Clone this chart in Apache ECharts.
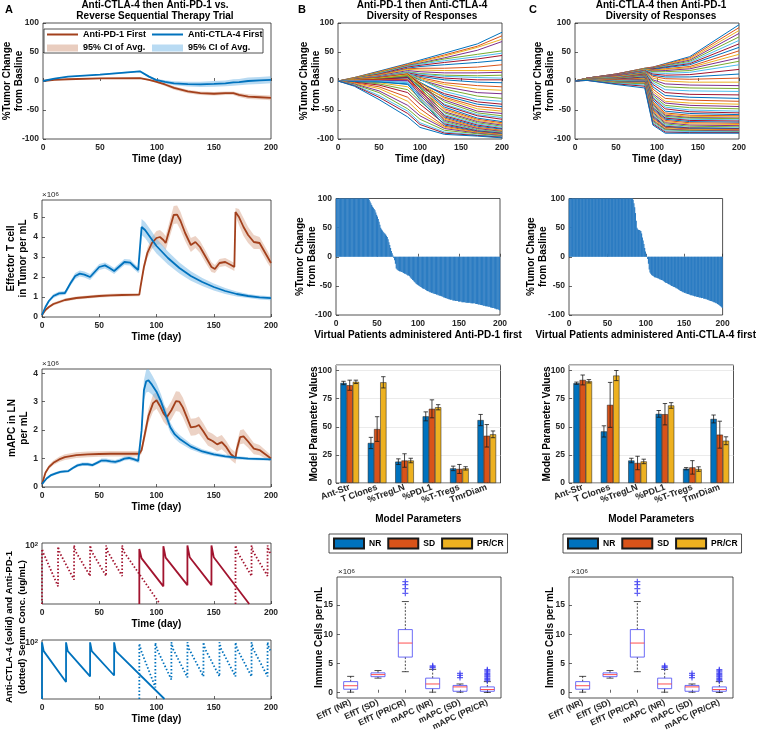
<!DOCTYPE html>
<html><head><meta charset="utf-8">
<script src="https://cdn.jsdelivr.net/npm/echarts@6/dist/echarts.min.js"></script>
<style>html,body{margin:0;padding:0;background:#fff}#c{width:758px;height:734px}</style>
</head><body><div id="c"></div><script>
// ---------------- DATA ----------------
// Panel A1: % tumor change, mean and 95% CI half-width
const a1Time   = [0,10,22,50,85,93,99,107,115,127,138,150,160,167,172,180,190,200];
const a1PD1    = [0,2,3,4.6,5,2,-1,-6,-12,-18,-21,-22,-21,-21,-24,-27,-28,-29];
const a1PD1CI  = [0,0.6,0.8,1,1.2,1.5,2,2.5,3,3,3,3,3,3,3.5,4,4,4];
const a1CTLA   = [0,4,7.5,11,16.7,7.5,2,-1.5,-4,-5.5,-5.7,-5,-4,-2.5,-2,0,1,2];
const a1CTLACI = [0,0.6,0.8,1,1.2,1.5,2,3,3.5,4,4.5,5,5,5.5,5.5,6,6,6];
// Panel A2: effector T cells (x10^6 per mL)
const a2PD1Time = [0,3,6,10,15,20,30,40,50,60,70,85,86,89,92,96,100,103,106,108,111,115,118,121,125,130,134,138,143,148,151,155,160,165,168,169,172,176,180,185,190,193,197,200];
const a2PD1     = [0.1,0.35,0.5,0.65,0.75,0.85,0.95,1.0,1.05,1.08,1.1,1.12,1.5,2.5,3.2,3.7,3.95,4.0,3.85,3.7,4.3,5.1,5.12,4.8,4.2,3.6,3.75,3.5,3.0,2.5,2.4,2.7,2.75,2.6,2.5,5.25,5.0,4.5,4.1,3.75,3.7,3.4,3.0,2.7];
const a2PD1CI   = [0.02,0.05,0.06,0.07,0.08,0.08,0.08,0.08,0.08,0.08,0.08,0.08,0.1,0.2,0.25,0.3,0.35,0.35,0.35,0.35,0.4,0.45,0.45,0.45,0.4,0.35,0.3,0.3,0.3,0.25,0.2,0.2,0.2,0.2,0.2,0.2,0.4,0.45,0.4,0.35,0.3,0.3,0.3,0.25];
const a2CTLATime = [0,3,6,10,15,20,21,25,29,33,37,42,46,50,55,59,63,67,72,77,81,84,85,87,90,95,100,110,120,130,140,150,160,170,180,190,200];
const a2CTLA     = [0.1,0.5,0.8,1.05,1.18,1.2,1.25,1.7,2.05,2.17,2.12,2.0,2.25,2.5,2.58,2.45,2.3,2.5,2.75,2.72,2.5,2.35,2.4,4.5,4.35,3.95,3.55,2.95,2.45,2.05,1.75,1.5,1.3,1.15,1.05,0.98,0.94];
const a2CTLACI   = [0.02,0.05,0.08,0.1,0.1,0.1,0.1,0.12,0.15,0.15,0.15,0.15,0.15,0.15,0.15,0.15,0.15,0.15,0.15,0.15,0.15,0.15,0.15,0.4,0.4,0.4,0.38,0.33,0.28,0.24,0.2,0.17,0.15,0.12,0.1,0.1,0.1];
// Panel A3: mAPC in LN (x10^6 per mL)
const a3PD1Time = [0,3,6,10,15,20,30,40,50,60,70,85,87,90,93,97,100,103,106,109,113,117,120,123,126,130,134,137,141,145,149,153,157,161,165,169,170,173,176,180,185,190,195,200];
const a3PD1     = [0.1,0.5,0.7,0.85,0.97,1.05,1.12,1.15,1.16,1.17,1.17,1.17,1.3,1.9,2.5,2.95,3.05,2.85,2.6,2.45,2.7,3.02,3.0,2.8,2.5,2.1,2.12,2.18,1.95,1.7,1.62,1.5,1.58,1.4,1.15,1.02,1.3,1.75,1.78,1.6,1.35,1.3,1.15,1.0];
const a3PD1CI   = [0.02,0.05,0.07,0.08,0.09,0.1,0.1,0.1,0.1,0.1,0.1,0.1,0.12,0.2,0.25,0.3,0.3,0.3,0.3,0.3,0.32,0.35,0.35,0.35,0.33,0.3,0.3,0.3,0.28,0.25,0.25,0.25,0.25,0.22,0.2,0.2,0.22,0.25,0.25,0.22,0.2,0.18,0.15,0.12];
const a3CTLATime = [0,4,8,12,16,20,23,27,31,35,40,44,48,52,56,60,64,68,72,76,80,84,85,87,89,91,93,96,100,104,108,112,116,120,130,140,150,160,170,180,200];
const a3CTLA     = [0.1,0.3,0.42,0.48,0.53,0.55,0.56,0.67,0.76,0.8,0.8,0.77,0.85,0.93,0.93,0.9,0.88,0.93,1.0,1.02,0.98,0.92,0.92,2.0,3.4,3.72,3.75,3.6,3.35,3.0,2.55,2.1,1.85,1.7,1.42,1.25,1.15,1.08,1.03,1.0,0.97];
const a3CTLACI   = [0.02,0.04,0.05,0.05,0.05,0.05,0.05,0.05,0.06,0.06,0.06,0.06,0.06,0.07,0.07,0.07,0.07,0.07,0.07,0.07,0.07,0.07,0.07,0.2,0.35,0.4,0.4,0.35,0.3,0.25,0.2,0.18,0.15,0.14,0.1,0.08,0.07,0.06,0.06,0.05,0.05];
// Panel A4: serum concentrations (ug/mL); '-' breaks a line
const a4TopDotT = [0,0,1.5,14,14,15.5,28,28,29.5,42,42,43.5,56,56,57.5,70,70,71.5,103,'-',169,169,170.5,183,183,184.5,197,197,198.5,200];
const a4TopDotC = [10,87,72,20,95,75,26,100,78,30,100,78,30,100,78,30,100,78,10,'-',10,100,78,30,100,78,30,100,78,72];
const a4TopSolT = [85,85,87,106,106,108,127,127,129,148,148,150,181];
const a4TopSolC = [10,87,60,20,97,62,21,100,63,21,100,63,10];
const a4BotSolT = [0,0,1.5,21,21,22.5,42,42,43.5,63,63,64.5,107];
const a4BotSolC = [10,100,70,20,100,70,25,100,70,26,100,70,10];
const a4BotDotT = [85,85,86.5,99,99,100.5,113,113,114.5,127,127,128.5,141,141,142.5,155,155,156.5,169,169,170.5,183,183,184.5,197,197,198.5,200];
const a4BotDotC = [10,95,72,16,98,75,22,100,76,24,100,76,25,100,76,25,100,76,25,100,76,25,100,76,25,100,76,70];
// Panel B1 / C1: individual virtual patients (% tumor change)
const tB = [0,20,50,85,100,130,170,200];
const b1Lines = [
[0,6,17,30,36,48,64,84],[0,6,16,29,34,45,60,78],[0,5,15,28,33,43,58,72],[0,5,14,27,31,40,53,68],
[0,5,14,26,30,38,46,52],[0,4,13,25,29,35,42,48],[0,4,12,24,27,32,38,44],[0,4,11,22,25,28,32,36],
[0,4,11,21,22,22,24,28],[0,4,10,20,19,18,18,18],[0,3,9,18,16,14,14,15],[0,3,8,16,13,10,9,10],
[0,3,8,15,12,8,6,5],[0,3,7,14,10,5,2,2],[0,2,6,12,8,2,-2,-3],[0,2,6,12,6,-3,-8,-10],
[0,2,5,10,4,-6,-14,-16],[0,2,5,10,2,-10,-20,-22],[0,2,5,12,2,-14,-26,-30],[0,2,6,14,3,-18,-32,-35],
[0,1,4,8,-4,-22,-36,-40],[0,2,5,11,-2,-25,-40,-44],[0,1,3,6,-8,-28,-44,-48],[0,2,6,13,-3,-30,-48,-52],
[0,1,3,5,-10,-33,-52,-56],[0,2,5,10,-6,-36,-55,-60],[0,1,2,4,-12,-40,-58,-63],[0,2,6,12,-5,-42,-60,-66],
[0,1,3,7,-10,-45,-64,-70],[0,1,2,2,-15,-48,-66,-72],[0,2,5,11,-8,-50,-68,-74],[0,0,1,0,-18,-53,-70,-76],
[0,1,4,9,-12,-55,-72,-78],[0,0,0,-3,-22,-58,-74,-80],[0,1,3,6,-16,-60,-76,-82],[0,0,-1,-6,-25,-62,-78,-83],
[0,1,2,3,-20,-64,-80,-85],[0,-1,-3,-10,-30,-66,-81,-86],[0,0,1,1,-24,-68,-82,-87],[0,-1,-5,-15,-35,-70,-84,-88],
[0,0,0,-2,-28,-72,-85,-89],[0,-2,-7,-20,-40,-74,-86,-90],[0,-1,-2,-5,-32,-76,-87,-91],[0,-3,-10,-28,-48,-78,-88,-92],
[0,-4,-13,-35,-55,-80,-89,-93],[0,-5,-17,-42,-60,-82,-90,-94],[0,-6,-20,-48,-66,-85,-91,-95],[0,-7,-25,-52,-72,-88,-93,-96],
[0,-8,-28,-56,-75,-90,-94,-97],[0,-9,-32,-62,-80,-92,-95,-98]
];
const tC = [0,15,50,85,95,110,140,200];
const c1Lines = [
[0,5,12,22,24,30,42,97],[0,5,12,22,24,29,40,92],[0,5,12,21,23,28,38,87],[0,5,12,21,23,27,36,82],
[0,5,11,21,22,26,34,76],[0,5,11,20,21,25,32,70],[0,5,11,20,21,24,30,64],[0,5,11,20,20,23,28,58],
[0,5,11,20,19,21,25,52],[0,5,10,20,18,20,23,46],[0,5,10,19,17,18,21,40],[0,4,10,19,16,16,18,34],
[0,4,10,19,14,13,15,28],[0,4,10,18,12,10,11,20],[0,4,9,18,10,7,7,12],[0,4,9,18,8,4,3,5],
[0,4,9,17,5,0,-2,-2],[0,4,9,17,2,-5,-7,-8],[0,4,8,16,0,-10,-12,-13],[0,4,8,16,-3,-15,-17,-18],
[0,4,8,15,-6,-20,-23,-24],[0,4,7,15,-10,-25,-28,-30],[0,4,7,14,-14,-30,-33,-35],[0,4,7,14,-18,-35,-38,-40],
[0,4,6,13,-22,-38,-42,-44],[0,4,6,13,-25,-42,-46,-48],[0,3,6,12,-28,-45,-50,-52],[0,3,5,12,-30,-48,-53,-55],
[0,3,5,11,-33,-52,-56,-58],[0,3,5,11,-36,-55,-59,-60],[0,3,4,10,-38,-57,-61,-62],[0,3,4,10,-40,-59,-63,-64],
[0,3,4,9,-42,-61,-64,-65],[0,3,3,8,-44,-63,-66,-67],[0,3,3,7,-46,-64,-68,-69],[0,3,2,6,-48,-66,-70,-71],
[0,3,2,5,-50,-68,-72,-73],[0,3,1,4,-52,-70,-74,-75],[0,2,1,3,-54,-72,-76,-77],[0,2,0,2,-56,-74,-78,-79],
[0,2,0,1,-58,-76,-80,-81],[0,2,-1,0,-60,-78,-81,-82],[0,2,-1,-1,-62,-79,-82,-83],[0,2,-2,-2,-64,-80,-83,-84],
[0,2,-2,-3,-66,-82,-84,-85],[0,2,-3,-4,-68,-83,-85,-86],[0,2,-3,-5,-70,-84,-86,-87],[0,1,-4,-7,-72,-86,-87,-88],
[0,1,-5,-9,-74,-88,-89,-89],[0,1,-6,-12,-76,-90,-90,-90]
];
// Panel B2 / C2: waterfall of final % change, 200 virtual patients (sorted)
const b2Final = [
100,100,100,100,100,100,100,100,100,100,100,100,100,100,100,100,100,100,100,100,
100,100,100,100,100,100,100,100,100,100,100,100,100,100,100,100,100,100,100,100,
98,95,92,89,86,84,82,80,76,72, 69,65,60,55,50,47,45,43,41,40,
38,36,34,30,25,20,15,10,6,2, -2,-6,-12,-20,-22,-23,-24,-25,-25,-26,
-26,-27,-28,-29,-29,-30,-31,-32,-32,-33, -35,-37,-38,-40,-41,-43,-44,-46,-47,-48,
-49,-50,-51,-52,-53,-54,-55,-55,-56,-57, -58,-59,-59,-60,-61,-61,-62,-62,-63,-63,
-64,-64,-65,-65,-66,-66,-67,-67,-68,-68, -69,-70,-70,-71,-71,-72,-72,-73,-73,-74,
-74,-74,-75,-75,-75,-76,-76,-76,-76,-77, -77,-77,-77,-78,-78,-78,-78,-78,-79,-79,
-79,-79,-79,-79,-80,-80,-80,-80,-80,-80, -81,-81,-81,-82,-82,-82,-83,-83,-83,-84,
-84,-84,-85,-85,-85,-86,-86,-86,-87,-87, -88,-88,-88,-89,-89,-90,-90,-90,-91,-92];
const c2Final = [
100,100,100,100,100,100,100,100,100,100,100,100,100,100,100,100,100,100,100,100,
100,100,100,100,100,100,100,100,100,100,100,100,100,100,100,100,100,100,100,100,
100,100,100,100,100,100,100,100,100,100,100,100,100,100,100,100,100,100,100,100,
100,100,100,100,100,100,100,100,100,100,100,100,100,100,100,100,100,100,100,100,
100,100,100, 98,92,85,75,62,50,47,
46,46,45,44,40,33,28,22,15,9, 4,0,-4,-12,-22,-27,-29,-31,-32,-33,
-34,-35,-35,-36,-36,-37,-37,-38,-39,-39, -40,-40,-41,-42,-43,-44,-45,-45,-46,-47,
-47,-48,-49,-50,-50,-51,-52,-52,-53,-54, -54,-55,-56,-57,-58,-59,-59,-60,-61,-61,
-62,-62,-63,-63,-64,-64,-65,-65,-66,-66, -66,-67,-67,-68,-68,-68,-69,-69,-69,-70,
-70,-70,-71,-71,-71,-72,-72,-72,-73,-73, -74,-74,-75,-75,-76,-76,-77,-77,-78,-78,
-79,-80,-80,-81,-82,-83,-84,-85,-86,-88];
// Panel B3 / C3: model parameter values by response group (mean, error)
const paramCats = ['Ant-Str','T Clones','%TregLN','%PDL1','%T-Tregs','TmrDiam'];
const b3NR = [89,35.6,19,59.3,13,56];     const b3NRerr = [1.5,5,2.5,4,2,5];
const b3SD = [87,48,20,66,12.5,42];       const b3SDerr = [4.5,11,6,8,4,10];
const b3PR = [90,89.6,20,67.4,13,43.3];   const b3PRerr = [1.5,5,2,2.3,1.5,3];
const c3NR = [88.8,45.9,20,61.5,12.7,57];  const c3NRerr = [1,5,2,3,1,3.5];
const c3SD = [91.7,69.5,17.8,61.2,13.9,43]; const c3SDerr = [4.4,20,6,9.5,6,12];
const c3PR = [90.5,95.6,19.2,69,12.4,37.6]; const c3PRerr = [1.5,4.5,2,2.5,2,3.5];
// Panel B4 / C4: immune cells per mL (x10^6): [min, Q1, median, Q3, max]
const boxCats = ['EffT (NR)','EffT (SD)','EffT (PR/CR)','mAPC (NR)','mAPC (SD)','mAPC (PR/CR)'];
const boxStats = [[0.1,0.6,1.2,1.9,2.8],[2.5,2.75,3.1,3.4,3.8],[3.6,6.1,8.5,10.8,15.6],[0.1,0.7,1.5,2.5,4.0],[0.1,0.25,1.0,1.25,1.5],[0.05,0.25,0.55,1.0,1.9]];
const boxOutliers = [[2,17.0],[2,17.8],[2,18.5],[2,19.0],[3,4.3],[3,4.45],[3,4.6],[4,2.6],[4,2.97],[4,3.3],
  [5,2.05],[5,2.25],[5,2.45],[5,2.7],[5,2.9],[5,3.1],[5,3.3],[5,3.55],[5,3.75],[5,3.95]];

// ---------------- CHART ----------------
const F = '"Liberation Sans", Arial, Helvetica, sans-serif';
const MC = ['#0072BD','#D95319','#EDB120','#7E2F8E','#77AC30','#4DBEEE','#A2142F'];
const BROWN = '#A3401C', BLUE = '#0072BD', BROWN_CI = '#D9A58C', BLUE_CI = '#72B6E6', RED = '#A2142F';
const grid=[], xAxis=[], yAxis=[], series=[], graphic=[];
const tick = {show:true, inside:true, length:3, lineStyle:{color:'#262626', width:0.7}};
function lab(e){ return Object.assign({color:'#262626', fontFamily:F, fontWeight:'bold', fontSize:8.5, margin:4}, e||{}); }
function nts(e){ return Object.assign({color:'#000', fontFamily:F, fontWeight:'bold', fontSize:10, lineHeight:12}, e||{}); }
function addGrid(r, xo, yo){
  const i = grid.length;
  grid.push({left:r[0], top:r[1], width:r[2], height:r[3], show:true, borderColor:'#262626', borderWidth:0.8, backgroundColor:'#fff'});
  xAxis.push(Object.assign({gridIndex:i, axisLine:{show:false}, axisTick:tick, splitLine:{show:false}, nameLocation:'middle', nameTextStyle:nts()}, xo));
  yAxis.push(Object.assign({gridIndex:i, axisLine:{show:false}, axisTick:tick, splitLine:{show:false}, nameLocation:'middle', nameRotate:90,
    nameMoveOverlap:false, nameTextStyle:nts()}, yo));
  return i;
}
function timeX(gap){ return {type:'value', min:0, max:200, interval:50, axisLabel:lab(), name:'Time (day)', nameGap:gap}; }
function pctY(gap){ return {type:'value', min:-100, max:100, interval:50, axisLabel:lab(), name:'%Tumor Change\nfrom Basline', nameGap:gap}; }
function line(gi, t, v, color, w, type){
  series.push({type:'line', xAxisIndex:gi, yAxisIndex:gi, data:t.map((x,i)=>[x, v[i]]), symbol:'none', silent:true,
    lineStyle:{color, width:w, type:type||'solid'}, z:3});
}
// confidence band polygon drawn through the axis scales
function band(gi, t, m, ci, color){
  series.push({type:'custom', xAxisIndex:gi, yAxisIndex:gi, silent:true, z:2, clip:true,
    data:[[t[0], m[0]]], encode:{x:0, y:1},
    renderItem:(p, api)=>{
      const up = t.map((x,i)=>api.coord([x, m[i]+ci[i]]));
      const lo = t.map((x,i)=>api.coord([x, m[i]-ci[i]])).reverse();
      return {type:'polygon', shape:{points:up.concat(lo)}, style:{fill:color, opacity:0.5}};
    }});
}
const sciY = (max, name, gap) => ({type:'value', min:0, max, axisLabel:lab({showMaxLabel:false}), name, nameGap:gap});
const logY = {type:'log', logBase:10, min:10, max:110, axisTick:{show:false},
  axisLabel:lab({formatter:v => Math.abs(v-100)<1 ? '{b|10}{s|2}' : '',
    rich:{b:{fontSize:8.5,fontWeight:'bold',fontFamily:F,color:'#262626'}, s:{fontSize:6,fontWeight:'bold',fontFamily:F,color:'#262626',verticalAlign:'top'}}})};

// Panel A
const gA1 = addGrid([42,23,229,116], timeX(13), pctY(18));
band(gA1, a1Time, a1PD1, a1PD1CI, BROWN_CI); band(gA1, a1Time, a1CTLA, a1CTLACI, BLUE_CI);
line(gA1, a1Time, a1PD1, BROWN, 1.8); line(gA1, a1Time, a1CTLA, BLUE, 1.8);
const gA2 = addGrid([42,200,229,117], timeX(14), sciY(5.85, 'Effector T cell\nin Tumor per mL', 13));
band(gA2, a2PD1Time, a2PD1, a2PD1CI, BROWN_CI); band(gA2, a2CTLATime, a2CTLA, a2CTLACI, BLUE_CI);
line(gA2, a2PD1Time, a2PD1, BROWN, 1.8); line(gA2, a2CTLATime, a2CTLA, BLUE, 1.8);
const gA3 = addGrid([42,369,229,118], timeX(14), sciY(4.15, 'mAPC in LN\nper mL', 12));
band(gA3, a3PD1Time, a3PD1, a3PD1CI, BROWN_CI); band(gA3, a3CTLATime, a3CTLA, a3CTLACI, BLUE_CI);
line(gA3, a3PD1Time, a3PD1, BROWN, 1.8); line(gA3, a3CTLATime, a3CTLA, BLUE, 1.8);
const gA4a = addGrid([42,543,229,61], timeX(13), Object.assign({}, logY));
line(gA4a, a4TopDotT, a4TopDotC, RED, 1.8, [1.5,2]); line(gA4a, a4TopSolT, a4TopSolC, RED, 1.8);
const gA4b = addGrid([42,640,229,59], timeX(13), Object.assign({}, logY));
line(gA4b, a4BotSolT, a4BotSolC, BLUE, 1.8); line(gA4b, a4BotDotT, a4BotDotC, BLUE, 1.8, [1.5,2]);

// Panels B and C
function panel(x1, x2, lines, tt, finals, wfName, nr, nrE, sd, sdE, pr, prE, xb, g1, g2, g3, g4){
  const gi1 = addGrid([x1,23,164,116], timeX(13), pctY(g1));
  lines.forEach((ln,k)=>line(gi1, tt, ln, MC[k%7], 1));
  const gi2 = addGrid([x2,198.5,164,116.5],
    {type:'value', min:0, max:200, interval:50, axisLabel:lab(), name:wfName, nameGap:13},
    pctY(g2));
  series.push({type:'bar', xAxisIndex:gi2, yAxisIndex:gi2, barWidth:1.2, silent:true,
    itemStyle:{color:'#2C7CC2'}, data:finals.map((v,i)=>[i+0.5, v])});
  const gi3 = addGrid([x2,365,164.5,118],
    {type:'category', data:paramCats, axisTick:Object.assign({alignWithLabel:true}, tick),
     axisLabel:lab({rotate:20, interval:0, fontSize:9, margin:4}), name:'Model Parameters', nameGap:30},
    {type:'value', min:0, max:105, interval:25, axisLabel:lab({showMaxLabel:false}),
     splitLine:{show:true, lineStyle:{color:'#e3e3e3', width:0.7}}, name:'Model Parameter Values', nameGap:g3});
  const groups = [['NR',nr,nrE,MC[0]],['SD',sd,sdE,MC[1]],['PR/CR',pr,prE,MC[2]]];
  const bw = 6.2;
  groups.forEach(([nm,v,e,col],k)=>{
    series.push({type:'bar', name:nm, xAxisIndex:gi3, yAxisIndex:gi3, data:v, barWidth:bw, barGap:'0%', silent:true,
      itemStyle:{color:col, borderColor:'#1a1a1a', borderWidth:0.5}});
  });
  groups.forEach(([nm,v,e,col],k)=>{
    const off = (k-1)*bw;
    series.push({type:'custom', xAxisIndex:gi3, yAxisIndex:gi3, silent:true, z:5, encode:{x:0,y:1},
      data:v.map((val,i)=>[i, val, e[i]]),
      renderItem:(p, api)=>{
        const c = api.value(0), m = api.value(1), er = api.value(2);
        const t = api.coord([c, m+er]), b = api.coord([c, m-er]); const x = t[0]+off;
        const s = {stroke:'#1a1a1a', lineWidth:0.8};
        return {type:'group', children:[
          {type:'line', shape:{x1:x,y1:t[1],x2:x,y2:b[1]}, style:s},
          {type:'line', shape:{x1:x-2.2,y1:t[1],x2:x+2.2,y2:t[1]}, style:s},
          {type:'line', shape:{x1:x-2.2,y1:b[1],x2:x+2.2,y2:b[1]}, style:s}]};
      }});
  });
  const gi4 = addGrid([xb,577,164,121],
    {type:'category', data:boxCats, axisTick:Object.assign({alignWithLabel:true}, tick),
     axisLabel:lab({rotate:25, interval:0, fontSize:8.5, margin:4})},
    {type:'value', min:-0.9, max:19.8, axisLabel:lab({showMinLabel:false, showMaxLabel:false}), name:'Immune Cells per mL', nameGap:g4});
  series.push({type:'custom', xAxisIndex:gi4, yAxisIndex:gi4, silent:true, encode:{x:0,y:[1,2,3,4,5]},
    data:boxStats.map((s,i)=>[i].concat(s)),
    renderItem:(p, api)=>{
      const i = api.value(0);
      const pm = api.coord([i, api.value(1)]), q1 = api.coord([i, api.value(2)]), md = api.coord([i, api.value(3)]),
            q3 = api.coord([i, api.value(4)]), px = api.coord([i, api.value(5)]);
      const x = pm[0], hw = 7, cw = 3.5;
      const wd = {stroke:'#000', lineWidth:0.7, lineDash:[2,1.5]}, cs = {stroke:'#000', lineWidth:0.7};
      return {type:'group', children:[
        {type:'line', shape:{x1:x,y1:q3[1],x2:x,y2:px[1]}, style:wd},
        {type:'line', shape:{x1:x,y1:q1[1],x2:x,y2:pm[1]}, style:wd},
        {type:'line', shape:{x1:x-cw,y1:px[1],x2:x+cw,y2:px[1]}, style:cs},
        {type:'line', shape:{x1:x-cw,y1:pm[1],x2:x+cw,y2:pm[1]}, style:cs},
        {type:'rect', shape:{x:x-hw,y:q3[1],width:2*hw,height:q1[1]-q3[1]}, style:{fill:'transparent', stroke:'#5b5bf5', lineWidth:0.9}},
        {type:'line', shape:{x1:x-hw,y1:md[1],x2:x+hw,y2:md[1]}, style:{stroke:'#ff3b3b', lineWidth:0.9}}]};
    }});
  series.push({type:'scatter', xAxisIndex:gi4, yAxisIndex:gi4, silent:true, data:boxOutliers,
    symbol:'path://M4,0H6V4H10V6H6V10H4V6H0V4H4Z', symbolSize:6, itemStyle:{color:'#3a3af0'}});
}
panel(338, 336, b1Lines, tB, b2Final, 'Virtual Patients administered Anti-PD-1 first', b3NR,b3NRerr,b3SD,b3SDerr,b3PR,b3PRerr, 337, 16, 18, 16, 11.5);
panel(575, 569, c1Lines, tC, c2Final, 'Virtual Patients administered Anti-CTLA-4 first', c3NR,c3NRerr,c3SD,c3SDerr,c3PR,c3PRerr, 569, 19, 20, 16, 13);

// legends for B3 / C3
const legBase = {orient:'horizontal', data:['NR','SD','PR/CR'], itemWidth:30, itemHeight:10, itemGap:6, padding:[3.5,4],
  borderColor:'#262626', borderWidth:0.8, backgroundColor:'#fff', icon:'rect', selectedMode:false,
  textStyle:{fontFamily:F, fontWeight:'bold', fontSize:8.5, color:'#000'}};
const legend = [Object.assign({left:329, top:534}, legBase), Object.assign({left:563, top:534}, legBase)];

// text / annotations
const T = (x,y,text,size,extra) => Object.assign({type:'text', x, y, z:100, silent:true,
  style:Object.assign({text, fill:'#000', font:'bold '+size+'px '+F, textAlign:'center', textVerticalAlign:'middle'}, extra||{})});
graphic.push(T(9,10,'A',11), T(302,10,'B',11), T(533,10,'C',11));
graphic.push(T(155,10.5,'Anti-CTLA-4 then Anti-PD-1 vs.\nReverse Sequential Therapy Trial',10,{lineHeight:11.5}));
graphic.push(T(422,10.5,'Anti-PD-1 then Anti-CTLA-4\nDiversity of Responses',10,{lineHeight:11.5}));
graphic.push(T(661,10.5,'Anti-CTLA-4 then Anti-PD-1\nDiversity of Responses',10,{lineHeight:11.5}));
const sci = (x,y) => ({type:'text', x, y, z:100, silent:true, style:{text:'×10{s|6}', fill:'#262626', font:'8px '+F, textVerticalAlign:'middle',
  rich:{s:{fontSize:6, fontFamily:F, fill:'#262626', verticalAlign:'top'}}}});
graphic.push(sci(42,195), sci(42,364), sci(338,572), sci(571,572));
graphic.push(Object.assign(T(16,627,'Anti-CTLA-4 (solid) and Anti-PD-1\n(dotted) Serum Conc. (ug/mL)',9.5,{lineHeight:13}), {rotation:Math.PI/2}));
// A1 legend box
graphic.push({type:'rect', z:100, silent:true, shape:{x:44,y:29,width:219,height:24}, style:{fill:'#fff', stroke:'#262626', lineWidth:0.8}});
graphic.push({type:'line', z:101, silent:true, shape:{x1:47,y1:34.5,x2:78,y2:34.5}, style:{stroke:BROWN, lineWidth:2}});
graphic.push({type:'line', z:101, silent:true, shape:{x1:152,y1:34.5,x2:183,y2:34.5}, style:{stroke:BLUE, lineWidth:2}});
graphic.push({type:'rect', z:101, silent:true, shape:{x:47,y:44.5,width:31,height:7}, style:{fill:'#E9CDBF'}});
graphic.push({type:'rect', z:101, silent:true, shape:{x:152,y:44.5,width:31,height:7}, style:{fill:'#B9DBF3'}});
graphic.push(T(83,35,'Anti-PD-1 First',9,{textAlign:'left'}), T(188,35,'Anti-CTLA-4 First',9,{textAlign:'left'}));
graphic.push(T(83,48,'95% CI of Avg.',9,{textAlign:'left'}), T(188,48,'95% CI of Avg.',9,{textAlign:'left'}));

const chart = echarts.init(document.getElementById('c'), null, {renderer:'canvas'});
chart.setOption({animation:false, backgroundColor:'#fff', grid, xAxis, yAxis, series, legend, graphic,
  textStyle:{fontFamily:F}});
</script></body></html>
